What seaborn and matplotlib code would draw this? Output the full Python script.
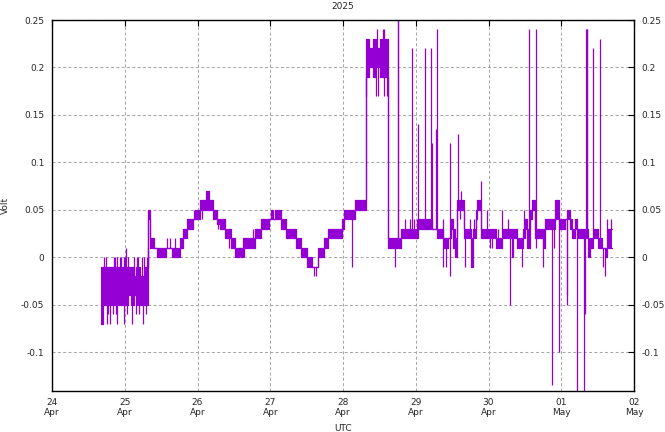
import numpy as np
import pandas as pd
import matplotlib
matplotlib.use('Agg')
import matplotlib.pyplot as plt
import matplotlib.dates as mdates
import seaborn as sns

# Graphs set-up
sns.set_theme(style='white')
plt.rcParams['font.family'] = ['DejaVu Sans']

violet = '#9400d3'
start = pd.Timestamp('2025-04-24 00:00')

# Stretches of the record: hours since 24 Apr 00:00 UTC, lowest and highest reading
seg_hours = [16.2, 16.8, 25.1, 26.0, 27.1, 27.6, 29.0, 30.7, 31.8, 32.3,
             33.6, 34.5, 37.5, 39.7,
             42.2, 43.3, 44.4, 46.4, 47.2, 48.8, 50.8, 51.8, 53.0, 54.3,
             55.4, 57.1, 59.1, 60.4, 61.7, 62.3, 63.1, 67.0, 68.9, 71.6,
             72.3, 73.0, 73.6, 74.3, 74.7, 75.5, 77.2, 80.5, 82.1, 84.2,
             85.9, 87.9, 89.7, 91.2, 95.6, 96.3, 100.0, 103.5, 104.6, 105.9,
             106.9, 108.2, 110.9, 115.1, 120.8, 125.3, 126.9, 129.1, 130.7, 131.6,
             132.2, 133.0, 133.7, 135.9, 138.1, 139.0, 139.8, 140.2, 141.6, 146.5,
             148.4, 151.7, 152.2, 153.3, 155.5, 156.0, 156.6, 157.7, 158.3, 159.3,
             162.1, 162.6, 165.9, 167.4, 169.2, 170.0, 170.9, 171.4, 172.5, 173.1,
             176.7, 177.5, 178.6, 180.2, 181.3, 182.4, 183.1, 184.6]
seg_low = [-0.07, -0.05, -0.04, -0.05, -0.04, -0.05, -0.05, -0.05, 0.04, 0.01,
           0.01, 0.00, 0.01, 0.00,
           0.01, 0.02, 0.03, 0.04, 0.04, 0.05, 0.05, 0.05, 0.04, 0.035,
           0.03, 0.02, 0.01, 0.00, 0.01, 0.00, 0.01, 0.02, 0.03, 0.04,
           0.04, 0.04, 0.04, 0.04, 0.04, 0.03, 0.02, 0.01, 0.00, -0.01,
           -0.01, 0.00, 0.01, 0.02, 0.03, 0.04, 0.05, 0.19, 0.20, 0.19,
           0.20, 0.19, 0.01, 0.02, 0.03, 0.03, 0.02, 0.01, 0.02, 0.03,
           0.01, 0.00, 0.05, 0.02, -0.01, 0.02, 0.04, 0.05, 0.02, 0.01,
           0.02, 0.00, 0.02, 0.01, 0.02, 0.03, 0.01, 0.04, 0.05, 0.02,
           0.01, 0.03, 0.04, 0.03, 0.04, 0.04, 0.03, 0.02, 0.03, 0.02,
           0.00, 0.01, 0.02, 0.01, 0.01, 0.00, 0.01, 0.01]
seg_high = [-0.01, -0.01, -0.01, -0.01, -0.02, -0.01, -0.02, -0.01, 0.05, 0.02,
            0.01, 0.01, 0.01, 0.01,
            0.02, 0.03, 0.04, 0.04, 0.05, 0.06, 0.07, 0.06, 0.05, 0.04,
            0.04, 0.03, 0.02, 0.01, 0.01, 0.01, 0.02, 0.03, 0.04, 0.04,
            0.05, 0.04, 0.05, 0.04, 0.05, 0.04, 0.03, 0.02, 0.01, 0.00,
            -0.01, 0.01, 0.02, 0.03, 0.04, 0.05, 0.06, 0.23, 0.22, 0.23,
            0.22, 0.23, 0.02, 0.03, 0.04, 0.03, 0.03, 0.02, 0.02, 0.04,
            0.03, 0.02, 0.06, 0.03, 0.02, 0.03, 0.05, 0.06, 0.03, 0.02,
            0.03, 0.03, 0.03, 0.02, 0.03, 0.04, 0.03, 0.05, 0.06, 0.03,
            0.03, 0.04, 0.06, 0.04, 0.04, 0.05, 0.04, 0.03, 0.04, 0.03,
            0.02, 0.02, 0.03, 0.02, 0.01, 0.01, 0.03, 0.03]

# Single readings that jump away from the stretch they sit in
spike_hours = [17.2, 17.7, 20.3, 20.7, 21.3, 22.5, 22.9, 23.6, 24.0, 25.2,
               27.2, 27.9, 28.4, 29.6, 30.5, 31.2, 24.3, 31.6,
               18.0, 19.1, 21.5, 23.6, 26.5, 30.1, 18.6, 20.1, 21.0, 24.6,
               27.7, 28.8, 31.0,
               37.8, 38.9, 40.6, 46.8, 49.6, 54.9, 58.5, 62.0, 63.1, 63.4,
               66.4, 86.5, 87.1, 99.1, 103.5, 106.8, 107.1, 107.6, 109.3, 109.6,
               109.6, 110.4, 113.2, 114.0, 114.2, 116.5, 118.1, 118.9, 119.5, 120.3,
               120.9, 123.1, 125.0, 125.5, 126.7, 127.1, 129.1, 129.1, 130.0, 131.3,
               131.3, 133.8, 134.6, 134.9, 136.2, 137.9, 139.3, 141.5, 143.6, 144.5,
               145.3, 147.0, 148.5, 150.5, 151.1, 155.2, 155.6, 157.5, 159.8, 159.8,
               162.0, 165.0, 165.7, 167.3, 169.8, 170.0, 173.3, 175.6, 175.8, 176.2,
               176.4, 176.6, 178.6, 180.8, 181.9, 182.5, 183.2, 184.3]
spike_volts = [0.0, 0.0, 0.0, 0.0, 0.0, 0.0, 0.0, 0.0, 0.0, 0.0,
               0.0, 0.0, 0.0, 0.0, 0.0, 0.0, 0.01, 0.01,
               -0.07, -0.07, -0.07, -0.07, -0.07, -0.07, -0.06, -0.06, -0.06, -0.06,
               -0.06, -0.06, -0.06,
               0.02, 0.02, 0.02, 0.05, 0.04, 0.03, 0.01, 0.0, 0.0, 0.0,
               0.03, -0.02, -0.02, -0.01, 0.17, 0.17, 0.24, 0.17, 0.24, 0.24,
               0.17, 0.17, -0.01, 0.26, 0.26, 0.04, 0.04, 0.22, 0.04, 0.04,
               0.14, 0.22, 0.22, 0.12, 0.135, 0.24, -0.01, 0.04, -0.01, 0.12,
               -0.02, 0.13, 0.04, 0.07, -0.01, 0.04, 0.04, 0.08, 0.05, 0.01,
               0.01, 0.03, 0.05, 0.04, -0.05, -0.01, 0.05, 0.24, 0.24, 0.01,
               -0.01, -0.135, 0.01, -0.10, -0.04, -0.05, -0.15, -0.15, -0.06, 0.24,
               0.24, 0.24, 0.22, 0.23, -0.01, -0.02, 0.04, 0.04]

volt_ticks = [-0.1, -0.05, 0, 0.05, 0.1, 0.15, 0.2, 0.25]


def main():
    seg_t = start + pd.to_timedelta(seg_hours, unit='h')
    spike_t = start + pd.to_timedelta(spike_hours, unit='h')
    low = np.array(seg_low)
    high = np.array(seg_high)

    fig = plt.figure(figsize=(6.65, 4.32), dpi=100)
    ax = fig.add_axes([52 / 665, 1 - 391 / 432, 582 / 665, 371 / 432])

    ax.fill_between(seg_t, low, high, step='post', color=violet, linewidth=0)
    sns.lineplot(x=seg_t, y=low, drawstyle='steps-post', estimator=None, sort=False,
                 color=violet, linewidth=0.9, ax=ax)
    sns.lineplot(x=seg_t, y=high, drawstyle='steps-post', estimator=None, sort=False,
                 color=violet, linewidth=0.9, ax=ax)

    # spikes rise (or fall) from the edge of the stretch they belong to
    idx = np.searchsorted(np.array(seg_hours), np.array(spike_hours), side='right') - 1
    vals = np.array(spike_volts)
    base = np.where(vals > high[idx], high[idx], low[idx])
    ax.vlines(mdates.date2num(spike_t), base, vals, color=violet, linewidth=0.9)

    ax.set_xlim(start, start + pd.Timedelta(days=8))
    ax.set_ylim(-0.141, 0.25)
    ax.xaxis.set_major_locator(mdates.DayLocator())
    ax.xaxis.set_major_formatter(mdates.DateFormatter('%d\n%b'))
    ax.set_yticks(volt_ticks)
    ax.set_yticklabels(['%g' % v for v in volt_ticks])
    ax.tick_params(direction='in', top=True, right=True, labelright=True,
                   length=4, width=0.8, labelsize=6.5, color='black')
    ax.tick_params(axis='y', pad=5.5)
    ax.tick_params(axis='x', pad=5, labelsize=6.5)
    for lab in ax.get_xticklabels():
        lab.set_linespacing(1.1)

    ax.set_axisbelow(True)
    ax.grid(True, color='#a8a8a8', linestyle=(0, (2.9, 2.2)), linewidth=0.75)
    for sp in ax.spines.values():
        sp.set_color('black')
        sp.set_linewidth(1)

    ax.set_title('2025', fontsize=6.5, pad=8)
    ax.set_xlabel('UTC', fontsize=6.5)
    ax.set_ylabel('Volt', fontsize=6.5)
    ax.xaxis.set_label_coords(0.5, -0.088)
    ax.yaxis.set_label_coords(-0.072, 0.5)

    fig.savefig('out.png', dpi=100)


if __name__ == "__main__":
    main()
